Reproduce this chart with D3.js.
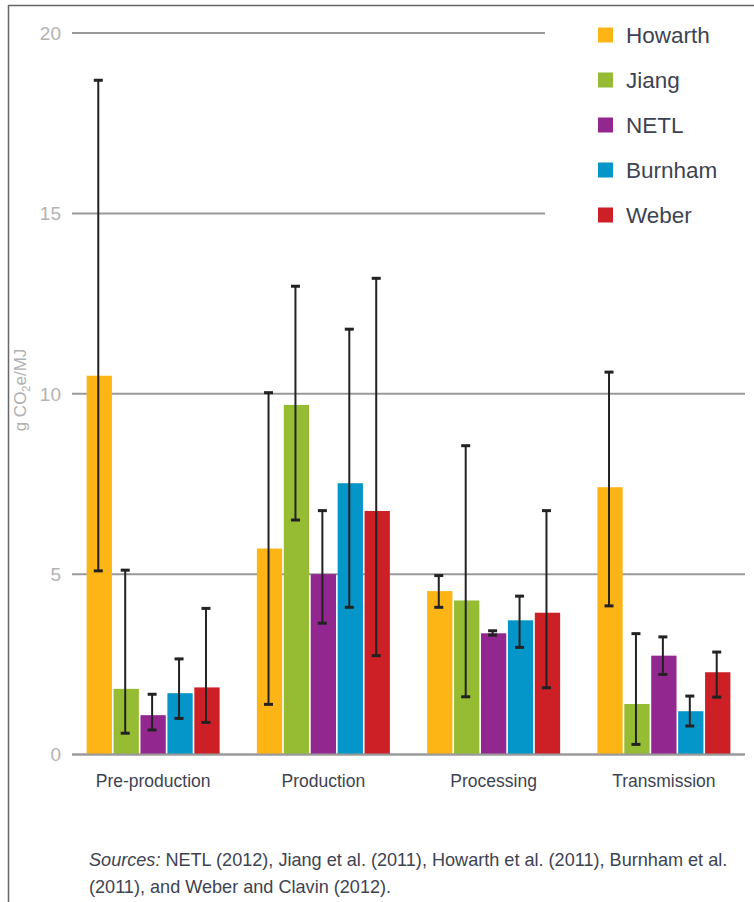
<!DOCTYPE html>
<html>
<head>
<meta charset="utf-8">
<script src="https://cdn.jsdelivr.net/npm/d3@7"></script>
<style>
  html, body { margin: 0; padding: 0; background: #fff; }
  svg { display: block; }
  text { font-family: "Liberation Sans", Arial, sans-serif; }
</style>
</head>
<body>
<script>
// ---- data ----
const categories = ["Pre-production", "Production", "Processing", "Transmission"];
const seriesNames = ["Howarth", "Jiang", "NETL", "Burnham", "Weber"];
const seriesColors = ["#FDB515", "#95BC33", "#92278F", "#0596C9", "#CC1F26"];

const howarth     = [10.50, 5.71, 4.53, 7.41];
const howarthLow  = [5.09, 1.39, 4.08, 4.12];
const howarthHigh = [18.69, 10.03, 4.96, 10.60];

const jiang     = [1.82, 9.69, 4.27, 1.40];
const jiangLow  = [0.59, 6.50, 1.60, 0.28];
const jiangHigh = [5.11, 12.98, 8.56, 3.35];

const netl     = [1.09, 5.00, 3.36, 2.74];
const netlLow  = [0.68, 3.64, 3.31, 2.22];
const netlHigh = [1.67, 6.76, 3.43, 3.26];

const burnham     = [1.70, 7.52, 3.72, 1.20];
const burnhamLow  = [1.00, 4.08, 2.97, 0.79];
const burnhamHigh = [2.65, 11.79, 4.39, 1.62];

const weber     = [1.86, 6.75, 3.93, 2.28];
const weberLow  = [0.89, 2.74, 1.85, 1.59];
const weberHigh = [4.05, 13.20, 6.76, 2.84];

const yTicks = [0, 5, 10, 15, 20];
const yLabel = ["g CO", "2", "e/MJ"];
const sourceLines = ["NETL (2012), Jiang et al. (2011), Howarth et al. (2011), Burnham et al.",
                     "(2011), and Weber and Clavin (2012)."];

// ---- build ----
const values = [howarth, jiang, netl, burnham, weber];
const lows   = [howarthLow, jiangLow, netlLow, burnhamLow, weberLow];
const highs  = [howarthHigh, jiangHigh, netlHigh, burnhamHigh, weberHigh];

const rows = [];
seriesNames.forEach((s, si) => {
  categories.forEach((c, ci) => {
    rows.push({cat: c, series: s, color: seriesColors[si],
               v: values[si][ci], lo: lows[si][ci], hi: highs[si][ci]});
  });
});

const W = 754, H = 902;
const svg = d3.select("body").append("svg").attr("width", W).attr("height", H);

// frame (top and left)
svg.append("line").attr("x1", 8).attr("x2", W).attr("y1", 5.5).attr("y2", 5.5)
  .attr("stroke", "#666").attr("stroke-width", 1.5);
svg.append("line").attr("x1", 8.5).attr("x2", 8.5).attr("y1", 5).attr("y2", H)
  .attr("stroke", "#666").attr("stroke-width", 1.5);

const y = d3.scaleLinear().domain([0, 20]).range([754.5, 33]);
const x0 = d3.scaleBand().domain(categories).range([68, 749]).padding(0);
const groupW = 133;
const x1 = d3.scaleBand().domain(seriesNames).range([0, groupW]).paddingInner(0.06);
const gx = c => x0(c) + x0.bandwidth() / 2 - groupW / 2;

// gridlines
const gridRight = t => (t >= 15 ? 545 : 745);
svg.append("g").selectAll("line").data(yTicks).join("line")
  .attr("x1", 72).attr("x2", d => gridRight(d))
  .attr("y1", d => y(d)).attr("y2", d => y(d))
  .attr("stroke", "#9a9a9a").attr("stroke-width", 2);

// y tick labels
svg.append("g").selectAll("text").data(yTicks).join("text")
  .attr("x", 61).attr("y", d => y(d))
  .attr("text-anchor", "end").attr("dy", "0.36em")
  .attr("font-size", 19).attr("fill", "#b3b3b3")
  .text(d => d);

// y label
const yl = svg.append("text")
  .attr("transform", "translate(26,390) rotate(-90)")
  .attr("text-anchor", "middle")
  .attr("font-size", 17).attr("fill", "#b0b0b0");
yl.append("tspan").text(yLabel[0]);
yl.append("tspan").attr("font-size", 11).attr("dy", 4).text(yLabel[1]);
yl.append("tspan").attr("dy", -4).text(yLabel[2]);

// bars
svg.append("g").selectAll("rect").data(rows).join("rect")
  .attr("x", d => gx(d.cat) + x1(d.series))
  .attr("width", x1.bandwidth())
  .attr("y", d => y(d.v))
  .attr("height", d => y(0) - y(d.v))
  .attr("fill", d => d.color);

// error bars
const eb = svg.append("g").selectAll("g").data(rows).join("g")
  .attr("transform", d => `translate(${gx(d.cat) + x1(d.series) + x1.bandwidth() / 2 - 1},0)`);
eb.append("line").attr("x1", 0).attr("x2", 0)
  .attr("y1", d => y(d.hi)).attr("y2", d => y(d.lo))
  .attr("stroke", "#222").attr("stroke-width", 2);
eb.append("line").attr("x1", -4.5).attr("x2", 4.5)
  .attr("y1", d => y(d.hi)).attr("y2", d => y(d.hi))
  .attr("stroke", "#222").attr("stroke-width", 3);
eb.append("line").attr("x1", -4.5).attr("x2", 4.5)
  .attr("y1", d => y(d.lo)).attr("y2", d => y(d.lo))
  .attr("stroke", "#222").attr("stroke-width", 3);

// baseline drawn above bars
svg.append("line").attr("x1", 72).attr("x2", 745)
  .attr("y1", y(0)).attr("y2", y(0))
  .attr("stroke", "#9a9a9a").attr("stroke-width", 2);

// category labels
svg.append("g").selectAll("text").data(categories).join("text")
  .attr("x", d => x0(d) + x0.bandwidth() / 2)
  .attr("y", 787)
  .attr("text-anchor", "middle")
  .attr("font-size", 17.5).attr("fill", "#3e4351")
  .text(d => d);

// legend
const lg = svg.append("g").selectAll("g").data(seriesNames).join("g")
  .attr("transform", (d, i) => `translate(598,${35 + i * 45})`);
lg.append("rect").attr("x", 0).attr("y", -7.5).attr("width", 15).attr("height", 15)
  .attr("fill", (d, i) => seriesColors[i]);
lg.append("text").attr("x", 28).attr("y", 0).attr("dy", "0.36em")
  .attr("font-size", 22.5).attr("fill", "#3e4351").text(d => d);

// sources
const src = svg.append("g").attr("font-size", 18.1).attr("fill", "#3e4351");
const t1 = src.append("text").attr("x", 89).attr("y", 866);
t1.append("tspan").attr("font-style", "italic").text("Sources:");
t1.append("tspan").text(" " + sourceLines[0]);
src.append("text").attr("x", 89).attr("y", 893).text(sourceLines[1]);
</script>
</body>
</html>
